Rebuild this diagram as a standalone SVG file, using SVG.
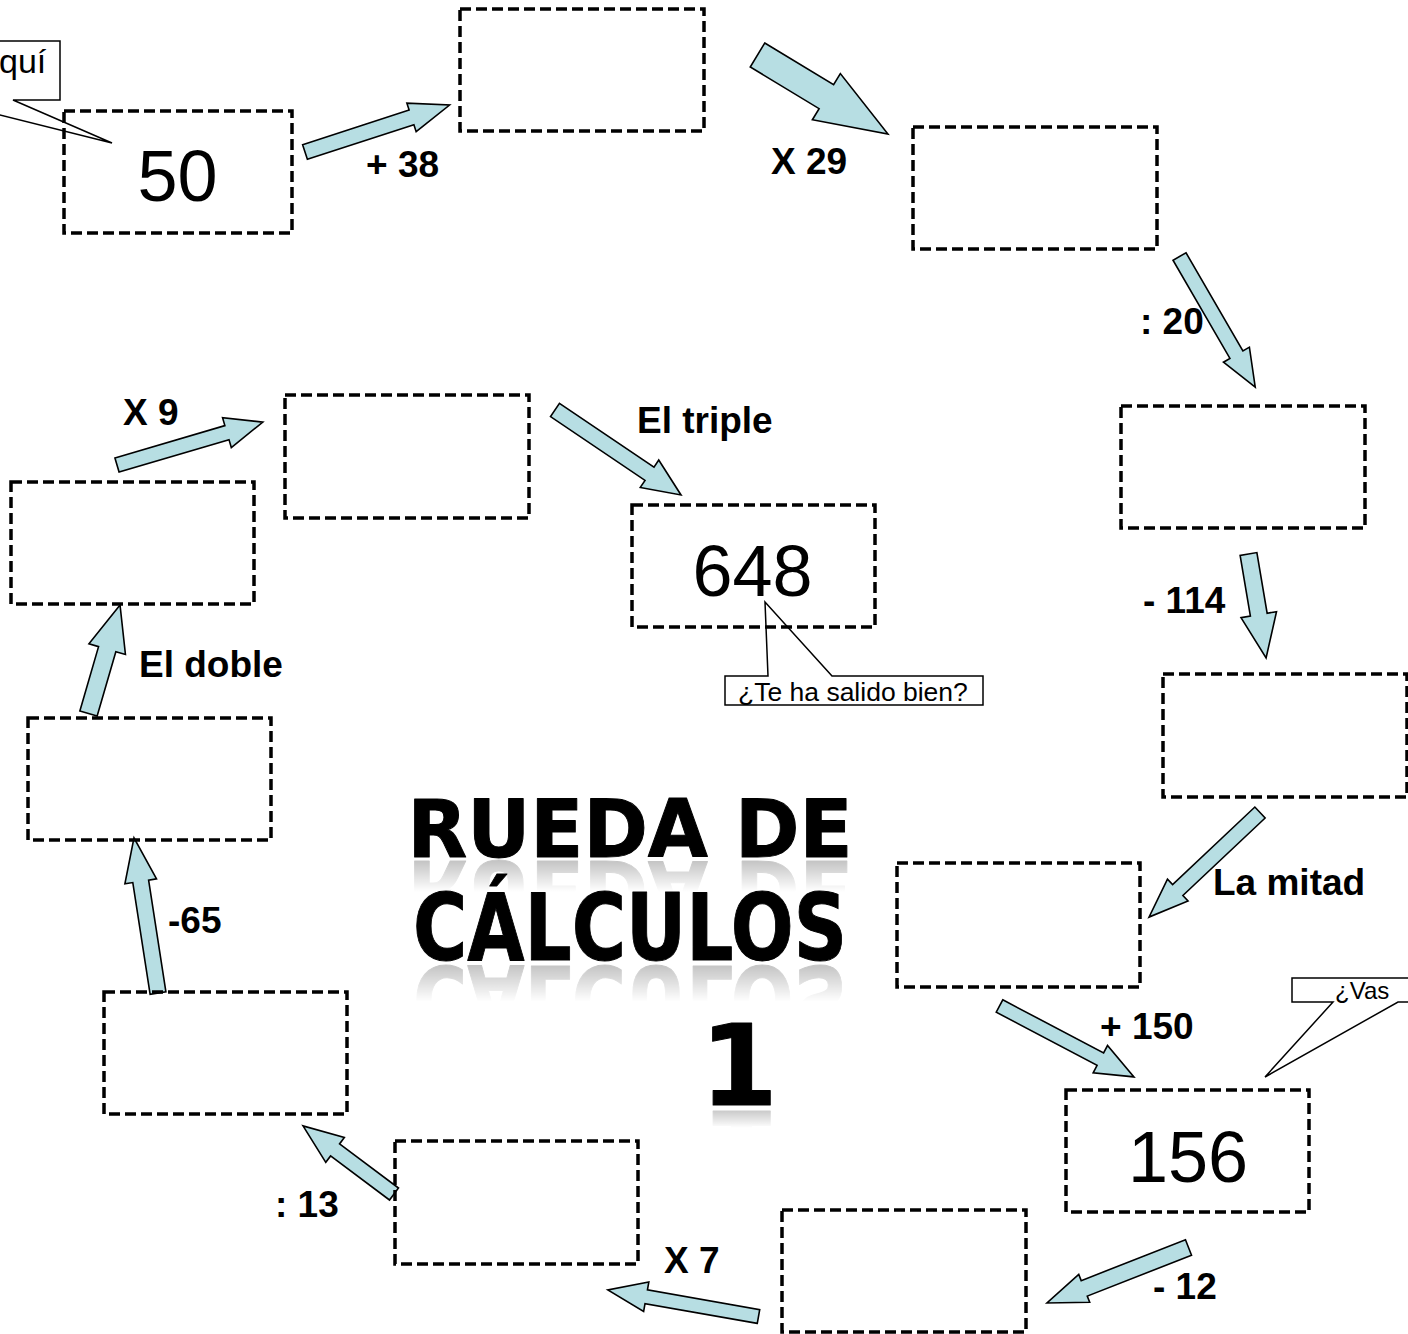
<svg xmlns="http://www.w3.org/2000/svg" xmlns:xlink="http://www.w3.org/1999/xlink" width="1408" height="1334" viewBox="0 0 1408 1334">
<style>
.box{fill:none;stroke:#000;stroke-width:3.5;stroke-dasharray:11 5}
.arr{fill:#b7dee3;stroke:#000;stroke-width:1.6;stroke-linejoin:miter}
.lbl{font-family:"Liberation Sans",Arial,sans-serif;font-weight:bold;font-size:37px;fill:#000}
.num{font-family:"Liberation Sans",Arial,sans-serif;font-size:72px;fill:#000;text-anchor:middle}
.call{fill:#fff;stroke:#000;stroke-width:1.5}
.ctext{font-family:"Liberation Sans",Arial,sans-serif;fill:#000}
.title{font-family:"DejaVu Sans",sans-serif;font-weight:bold;fill:#000;stroke:#000;stroke-width:1;stroke-linejoin:round;text-anchor:middle}
</style>
<defs>
<linearGradient id="rg1" gradientUnits="userSpaceOnUse" x1="0" y1="858" x2="0" y2="892"><stop offset="0" stop-color="#fff"/><stop offset="1" stop-color="#000"/></linearGradient>
<linearGradient id="rg2" gradientUnits="userSpaceOnUse" x1="0" y1="962" x2="0" y2="1002"><stop offset="0" stop-color="#fff"/><stop offset="1" stop-color="#000"/></linearGradient>
<linearGradient id="rg3" gradientUnits="userSpaceOnUse" x1="0" y1="1107" x2="0" y2="1128"><stop offset="0" stop-color="#fff"/><stop offset="1" stop-color="#000"/></linearGradient>
<mask id="m1" maskUnits="userSpaceOnUse" x="0" y="0" width="1408" height="1334"><rect x="0" y="858" width="1408" height="40" fill="url(#rg1)"/></mask>
<mask id="m2" maskUnits="userSpaceOnUse" x="0" y="0" width="1408" height="1334"><rect x="0" y="962" width="1408" height="45" fill="url(#rg2)"/></mask>
<mask id="m3" maskUnits="userSpaceOnUse" x="0" y="0" width="1408" height="1334"><rect x="0" y="1107" width="1408" height="25" fill="url(#rg3)"/></mask>
</defs>
<rect width="1408" height="1334" fill="#fff"/>

<g id="title">
<text id="t1" class="title" x="630" y="857" font-size="80" textLength="445" lengthAdjust="spacingAndGlyphs">RUEDA DE</text>
<text id="t2" class="title" x="630" y="960" font-size="92" textLength="434" lengthAdjust="spacingAndGlyphs">CÁLCULOS</text>
<text id="t3" class="title" x="739" y="1105" font-size="112">1</text>
<g mask="url(#m1)" opacity="0.25"><use xlink:href="#t1" transform="translate(0,1718) scale(1,-1)"/></g>
<g mask="url(#m2)" opacity="0.25"><use xlink:href="#t2" transform="translate(0,1926) scale(1,-1)"/></g>
<g mask="url(#m3)" opacity="0.25"><use xlink:href="#t3" transform="translate(0,2216) scale(1,-1)"/></g>
</g>

<g id="connectors">
<polygon class="arr" transform="translate(305,152) rotate(-18)" points="0,-7.7 112,-7.7 112,-15 152,0 112,15 112,7.7 0,7.7"/>
<polygon class="arr" transform="translate(757.5,55) rotate(31.2)" points="0,-14 80.5,-14 80.5,-27 152.5,0 80.5,27 80.5,14 0,14"/>
<polygon class="arr" transform="translate(1179.5,256.5) rotate(59.9)" points="0,-7.5 113.5,-7.5 113.5,-15 151,0 113.5,15 113.5,7.5 0,7.5"/>
<polygon class="arr" transform="translate(1248.5,554) rotate(80.4)" points="0,-8.5 61.5,-8.5 61.5,-18 105.5,0 61.5,18 61.5,8.5 0,8.5"/>
<polygon class="arr" transform="translate(1260,812.5) rotate(136.7)" points="0,-7.5 113,-7.5 113,-15 152.5,0 113,15 113,7.5 0,7.5"/>
<polygon class="arr" transform="translate(999.5,1006) rotate(27.8)" points="0,-7 114,-7 114,-15.4 152,0 114,15.4 114,7 0,7"/>
<polygon class="arr" transform="translate(1188.5,1247.5) rotate(158.6)" points="0,-8.3 112,-8.3 112,-15 152,0 112,15 112,8.3 0,8.3"/>
<polygon class="arr" transform="translate(758.5,1316.5) rotate(190)" points="0,-7 114,-7 114,-15 153,0 114,15 114,7 0,7"/>
<polygon class="arr" transform="translate(394,1194) rotate(-143.2)" points="0,-7.5 73.6,-7.5 73.6,-15.5 113.6,0 73.6,15.5 73.6,7.5 0,7.5"/>
<polygon class="arr" transform="translate(158,993) rotate(-98.8)" points="0,-8 113,-8 113,-16 157,0 113,16 113,8 0,8"/>
<polygon class="arr" transform="translate(88.5,713.5) rotate(-73.8)" points="0,-9 67,-9 67,-19 113,0 67,19 67,9 0,9"/>
<polygon class="arr" transform="translate(117,465) rotate(-16.4)" points="0,-7.3 114.6,-7.3 114.6,-15.5 152,0 114.6,15.5 114.6,7.3 0,7.3"/>
<polygon class="arr" transform="translate(555,410) rotate(34)" points="0,-8 114,-8 114,-16.5 152,0 114,16.5 114,8 0,8"/>
</g>

<g id="labels">
<text class="lbl" x="366" y="177">+ 38</text>
<text class="lbl" x="771" y="174">X 29</text>
<text class="lbl" x="1140" y="334">: 20</text>
<text class="lbl" x="1143" y="613">- 114</text>
<text class="lbl" x="1213" y="895">La mitad</text>
<text class="lbl" x="1100" y="1039">+ 150</text>
<text class="lbl" x="1153" y="1299">- 12</text>
<text class="lbl" x="664" y="1273">X 7</text>
<text class="lbl" x="275" y="1217">: 13</text>
<text class="lbl" x="168" y="933">-65</text>
<text class="lbl" x="139" y="677">El doble</text>
<text class="lbl" x="123" y="425">X 9</text>
<text class="lbl" x="637" y="433">El triple</text>
</g>

<g id="callouts">
<g id="callout-aqui">
<path class="call" d="M -200,41 H 60 V 100 H 13 L 112,143 L -60,100 H -200 Z"/>
<text class="ctext" x="-1" y="73" font-size="34">quí</text>
</g>
<g id="callout-bien">
<path class="call" d="M 725,676 H 768 L 765,602 L 832,676 H 983 V 705 H 725 Z"/>
<text class="ctext" x="738" y="701" font-size="26.5">¿Te ha salido bien?</text>
</g>
<g id="callout-vas">
<path class="call" d="M 1292,978 H 1420 V 1002 H 1398 L 1265,1077 L 1333,1002 H 1292 Z"/>
<text class="ctext" x="1335" y="999" font-size="24">¿Vas</text>
</g>
</g>

<g id="n1"><rect class="box" x="64" y="111" width="228" height="122"/><text class="num" x="177.5" y="201">50</text></g>
<g id="n2"><rect class="box" x="460" y="9" width="244" height="122"/></g>
<g id="n3"><rect class="box" x="913" y="127" width="244" height="122"/></g>
<g id="n4"><rect class="box" x="1121" y="406" width="244" height="122"/></g>
<g id="n5"><rect class="box" x="1163" y="674" width="244" height="123"/></g>
<g id="n6"><rect class="box" x="897" y="863" width="243" height="124"/></g>
<g id="n7"><rect class="box" x="1066" y="1090" width="243" height="122"/><text class="num" x="1188" y="1182">156</text></g>
<g id="n8"><rect class="box" x="782" y="1210" width="244" height="122"/></g>
<g id="n9"><rect class="box" x="395" y="1141" width="243" height="123"/></g>
<g id="n10"><rect class="box" x="104" y="992" width="243" height="122"/></g>
<g id="n11"><rect class="box" x="28" y="718" width="243" height="122"/></g>
<g id="n12"><rect class="box" x="11" y="482" width="243" height="122"/></g>
<g id="n13"><rect class="box" x="285" y="395" width="244" height="123"/></g>
<g id="n14"><rect class="box" x="632" y="505" width="243" height="122"/><text class="num" x="752.5" y="596">648</text></g>
</svg>
